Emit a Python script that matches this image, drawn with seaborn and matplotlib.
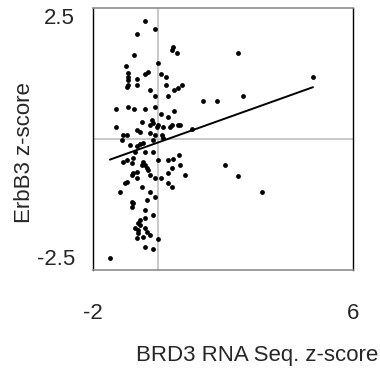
import matplotlib
matplotlib.use("Agg")
import matplotlib.pyplot as plt
import pandas as pd
import seaborn as sns

# BRD3 RNA-seq z-score vs ErbB3 z-score
brd3_z = [
    -0.40, -0.09, -0.65, 0.46, 0.43, 0.58, -0.74, 0.00, -0.98, -0.92,
    -0.92, -0.92, -0.40, -0.31, 0.09, 0.25, -0.65, -0.95, -0.92, -0.65,
    0.25, -0.25, 0.74, 0.62, 0.49, -0.09, 0.31, 1.38, -1.29, -0.92,
    -0.74, -0.40, -0.09, 0.49, 0.09, 0.31, -1.29, -0.49, -0.18, -0.15,
    -0.25, 0.00, -0.03, 0.15, 0.37, 0.43, 0.62, 0.68, -0.65, -0.55,
    -1.08, -0.95, -0.25, -0.09, 0.12, 1.05, -1.11, 0.15, -0.15, -0.86,
    -0.65, -0.55, -0.46, -0.71, -0.40, -0.15, -0.95, -1.08, -0.77, -0.80,
    -0.46, -0.40, -0.49, -0.34, -0.31, 0.00, 0.31, 0.46, 0.65, 0.68,
    0.43, 0.31, 0.83, -0.65, -0.77, -0.80, -0.25, -0.09, 0.09, -0.65,
    -0.95, -1.02, -1.17, -0.49, 0.31, 0.43, -0.25, -0.34, -0.09, -0.80,
    -0.77, -0.80, -0.40, -0.15, -0.40, -0.55, -0.62, -0.55, -0.71, -0.62,
    -0.40, -0.34, -0.62, -0.65, -0.46, -0.25, 0.00, -0.40, -0.15, -1.48,
    2.46, 4.77, 1.82, 2.62, 2.06, 2.46, 3.20,
]
erbb3_z = [
    2.25, 2.10, 2.00, 1.76, 1.70, 1.64, 1.60, 1.45, 1.39, 1.26,
    1.18, 1.13, 1.24, 1.28, 1.24, 1.18, 1.15, 0.99, 1.03, 1.03,
    1.03, 0.94, 1.03, 0.97, 0.94, 0.82, 0.82, 0.73, 0.57, 0.61,
    0.57, 0.57, 0.61, 0.53, 0.48, 0.42, 0.23, 0.32, 0.36, 0.31,
    0.27, 0.27, 0.23, 0.23, 0.23, 0.27, 0.27, 0.27, 0.17, 0.13,
    0.08, 0.08, 0.11, 0.08, 0.08, 0.19, -0.02, 0.02, -0.02, -0.11,
    -0.13, -0.10, -0.08, -0.25, -0.25, -0.25, -0.40, -0.44, -0.36, -0.46,
    -0.44, -0.50, -0.50, -0.55, -0.59, -0.40, -0.40, -0.38, -0.31, -0.50,
    -0.55, -0.65, -0.69, -0.63, -0.65, -0.69, -0.69, -0.74, -0.74, -0.74,
    -0.82, -0.84, -1.01, -0.92, -0.84, -0.92, -1.01, -1.16, -1.11, -1.20,
    -1.22, -1.30, -1.35, -1.45, -1.51, -1.55, -1.60, -1.64, -1.70, -1.74,
    -1.70, -1.77, -1.79, -1.89, -1.87, -1.83, -1.91, -2.06, -2.10, -2.27,
    1.64, 1.18, 0.73, 0.82, -0.50, -0.71, -1.01,
]
x_ticks = [-2, 6]
x_tick_labels = ["-2", "6"]
y_ticks = [-2.5, 2.5]
y_tick_labels = ["-2.5", "2.5"]

df = pd.DataFrame({"brd3": brd3_z, "erbb3": erbb3_z})

sns.set_style("white")
plt.rcParams["font.family"] = ["Liberation Sans", "DejaVu Sans"]

fig = plt.figure(figsize=(3.8, 3.68), dpi=100)
ax = fig.add_axes([0.2447, 0.2663, 0.684, 0.712])

ax.axvline(0, color="#c0c0c0", lw=1.2, zorder=1)
ax.axhline(0, color="#c0c0c0", lw=1.2, zorder=1)

sns.regplot(
    data=df, x="brd3", y="erbb3", ax=ax, ci=None,
    scatter_kws={"s": 12, "color": "black", "linewidths": 0, "alpha": 1, "zorder": 3},
    line_kws={"color": "black", "lw": 1.4, "zorder": 4},
)

ax.set_xlim(-2, 6)
ax.set_ylim(-2.5, 2.5)

for side in ["left", "right"]:
    ax.spines[side].set_color("black")
    ax.spines[side].set_linewidth(1.0)
for side in ["top", "bottom"]:
    ax.spines[side].set_color("#8c8c8c")
    ax.spines[side].set_linewidth(1.2)

ax.set_xticks(x_ticks, x_tick_labels)
ax.set_yticks(y_ticks, y_tick_labels)
ax.tick_params(axis="x", length=0, pad=24, labelsize=16)
ax.tick_params(axis="y", length=0, pad=13, labelsize=16)
ylabels = ax.get_yticklabels()
ylabels[0].set_va("bottom")
ylabels[1].set_va("top")

ax.set_xlabel("")
ax.set_ylabel("")
ax.text(0.63, -0.325, "BRD3 RNA Seq. z-score", transform=ax.transAxes,
        ha="center", va="center", fontsize=16)
ax.text(-0.265, 0.447, "ErbB3 z-score", transform=ax.transAxes,
        ha="center", va="center", rotation=90, fontsize=16)

fig.savefig("out.png", dpi=100)
